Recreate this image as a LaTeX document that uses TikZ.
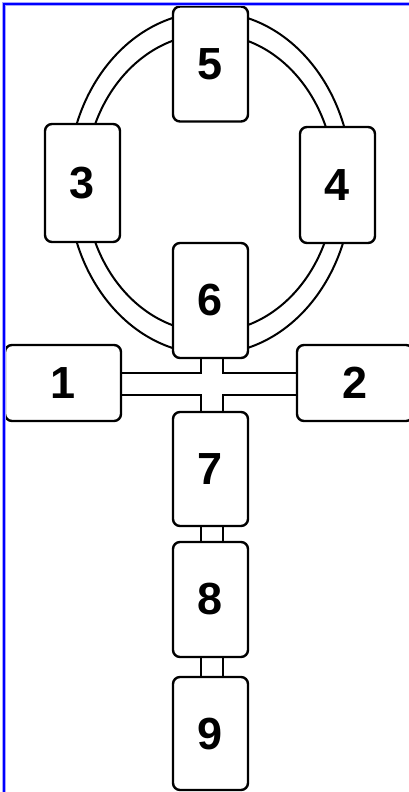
\documentclass[tikz,border=0pt]{standalone}
\usepackage{fontspec}
\setmainfont{Liberation Sans}
\usepackage{tikz}

\begin{document}
\begin{tikzpicture}[x=1pt,y=-1pt,
    unit/.style={draw,line width=2.4pt,rounded corners=7pt,fill=white,
                 minimum width=75pt,minimum height=115pt,inner sep=0pt,
                 font=\fontsize{45}{45}\selectfont\bfseries},
    sideunit/.style={unit,minimum width=116pt,minimum height=76pt},
    pipe/.style={line width=2pt}]
    \clip (0,0) rectangle (409,792);
    \fill[white] (0,0) rectangle (409,792);

    % ring round the upper units
    \draw[pipe] (210,183) ellipse (142 and 171);
    \draw[pipe] (210,183) ellipse (125 and 149);

    \node[unit] (n5) at (210.5,64) {5};
    \node[unit,minimum height=118pt] (n3) at (82.5,183) {3};
    \node[unit,minimum height=116pt] (n4) at (337.5,185) {4};
    \node[unit] (n6) at (210.5,300.5) {6};
    \node[sideunit] (n1) at (63,383) {1};
    \node[sideunit] (n2) at (355,383) {2};
    \node[unit,minimum height=114pt] (n7) at (210.5,469) {7};
    \node[unit] (n8) at (210.5,599.5) {8};
    \node[unit,minimum height=113pt] (n9) at (210.5,733.5) {9};

    % cross piece below unit 6
    \coordinate (hubNW) at (201,373);
    \coordinate (hubNE) at (223,373);
    \coordinate (hubSW) at (201,395);
    \coordinate (hubSE) at (223,395);
    \draw[pipe] (n1.east |- hubNW) -- (hubNW) -- (n6.south -| hubNW);
    \draw[pipe] (n2.west |- hubNE) -- (hubNE) -- (n6.south -| hubNE);
    \draw[pipe] (n1.east |- hubSW) -- (hubSW) -- (n7.north -| hubSW);
    \draw[pipe] (n2.west |- hubSE) -- (hubSE) -- (n7.north -| hubSE);

    % links down the column
    \draw[pipe] (n7.south -| hubSW) -- (n8.north -| hubSW);
    \draw[pipe] (n7.south -| hubSE) -- (n8.north -| hubSE);
    \draw[pipe] (n8.south -| hubSW) -- (n9.north -| hubSW);
    \draw[pipe] (n8.south -| hubSE) -- (n9.north -| hubSE);

    % frame edge
    \draw[blue!35,line width=4pt] (4,792) -- (4,4) -- (409,4);
    \draw[blue,line width=1.6pt] (4,792) -- (4,4) -- (409,4);
\end{tikzpicture}
\end{document}
